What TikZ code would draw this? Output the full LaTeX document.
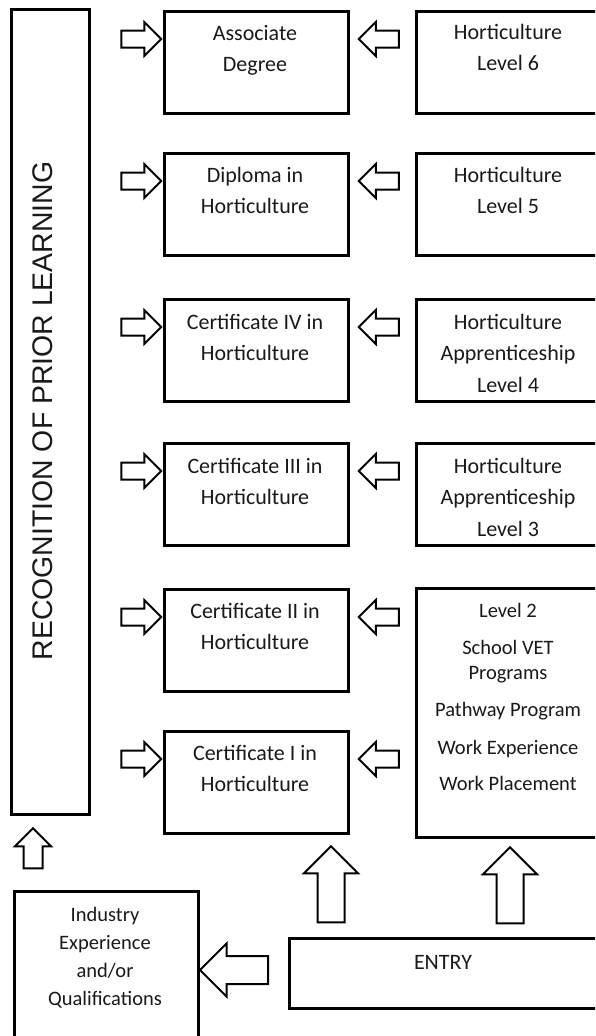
\documentclass[tikz,border=0pt]{standalone}
\usepackage{fontspec}
\setmainfont{Carlito}
\newfontfamily\rplfont{Liberation Sans}
\usetikzlibrary{shapes.arrows}
\tikzset{
  box/.style={draw, line width=3pt, anchor=north west, inner sep=0pt},
  boxtxt/.style={anchor=north, align=center, inner sep=0pt, text=black!90,
    font=\fontsize{22}{31.5}\selectfont,
    execute at begin node={\rule{0pt}{18pt}}},
  smalltxt/.style={boxtxt, font=\fontsize{20.5}{25}\selectfont},
  indtxt/.style={boxtxt, font=\fontsize{20.5}{28}\selectfont},
  blockarrow/.style={draw, line width=2pt, shape=single arrow, single arrow tip angle=90,
    inner xsep=0pt, fill=white},
  sarrow/.style={blockarrow, minimum height=40pt, inner ysep=7.5pt, single arrow head extend=8.5pt},
  uarrow/.style={blockarrow, minimum height=76pt, inner ysep=12.5pt, single arrow head extend=13.5pt, rotate=90}
}
\begin{document}
\begin{tikzpicture}[x=1pt,y=-1pt]
\useasboundingbox (0,0) rectangle (595,1036);
\clip (0,0) rectangle (595,1036);
% RPL column
\node[box, minimum width=78pt, minimum height=805pt] (rpl) at (10,8) {};
\node[anchor=base, rotate=90, inner sep=0pt, font=\rplfont\fontsize{28.4}{30}\selectfont, text=black!90] (rpltxt) at (52,411) {RECOGNITION OF PRIOR LEARNING};
% middle column
\foreach \i/\t in {1/10,2/152,3/298,4/442,5/588,6/730}{
  \node[box, minimum width=184pt, minimum height=102pt] (m\i) at (163,\t) {};
}
\node[boxtxt] (m1t) at (255,25) {Associate\\Degree};
\node[boxtxt] (m2t) at (255,167) {Diploma in\\Horticulture};
\node[boxtxt] (m3t) at (255,314) {Certificate IV in\\Horticulture};
\node[boxtxt] (m4t) at (255,458) {Certificate III in\\Horticulture};
\node[boxtxt] (m5t) at (255,603) {Certificate II in\\Horticulture};
\node[boxtxt] (m6t) at (255,745) {Certificate I in\\Horticulture};
% right column
\foreach \i/\t in {1/10,2/152,3/298,4/442}{
  \node[box, minimum width=186pt, minimum height=102pt] (r\i) at (415,\t) {};
}
\node[box, minimum width=186pt, minimum height=249pt] (r5) at (415,587) {};
\node[boxtxt] (r1t) at (508,24) {Horticulture\\Level 6};
\node[boxtxt] (r2t) at (508,167) {Horticulture\\Level 5};
\node[boxtxt] (r3t) at (508,314) {Horticulture\\Apprenticeship\\Level 4};
\node[boxtxt] (r4t) at (508,458) {Horticulture\\Apprenticeship\\Level 3};
\node[smalltxt] (r5t) at (508,603) {Level 2\\[12pt]School VET\\Programs\\[12pt]Pathway Program\\[13pt]Work Experience\\[11pt]Work Placement};
% bottom boxes
\node[box, minimum width=184pt, minimum height=160pt] (ind) at (13,890) {};
\node[indtxt] (indt) at (105,907) {Industry\\Experience\\and/or\\Qualifications};
\node[box, minimum width=312pt, minimum height=70pt] (entry) at (288,937) {};
\node[anchor=base, inner sep=0pt, font=\fontsize{22}{26}\selectfont, text=black!90] (entryt) at (443,969) {ENTRY};
% arrows into middle column
\foreach \i/\t in {1/10,2/152,3/298,4/442,5/588,6/730}{
  \node[sarrow] (ra\i) at (137,\t+29) {};
  \node[sarrow, rotate=180] (la\i) at (383,\t+29) {};
}
% up arrows
\node[blockarrow, minimum height=40pt, inner ysep=8.5pt, single arrow head extend=8.5pt, rotate=90] (rplup) at (33,853) {};
\node[uarrow] (up1) at (331,891) {};
\node[uarrow] (up2) at (510,892) {};
% arrow to industry
\node[blockarrow, minimum height=68pt, inner ysep=13pt, single arrow head extend=12.5pt, rotate=180] (indarrow) at (241,970) {};
\end{tikzpicture}
\end{document}
